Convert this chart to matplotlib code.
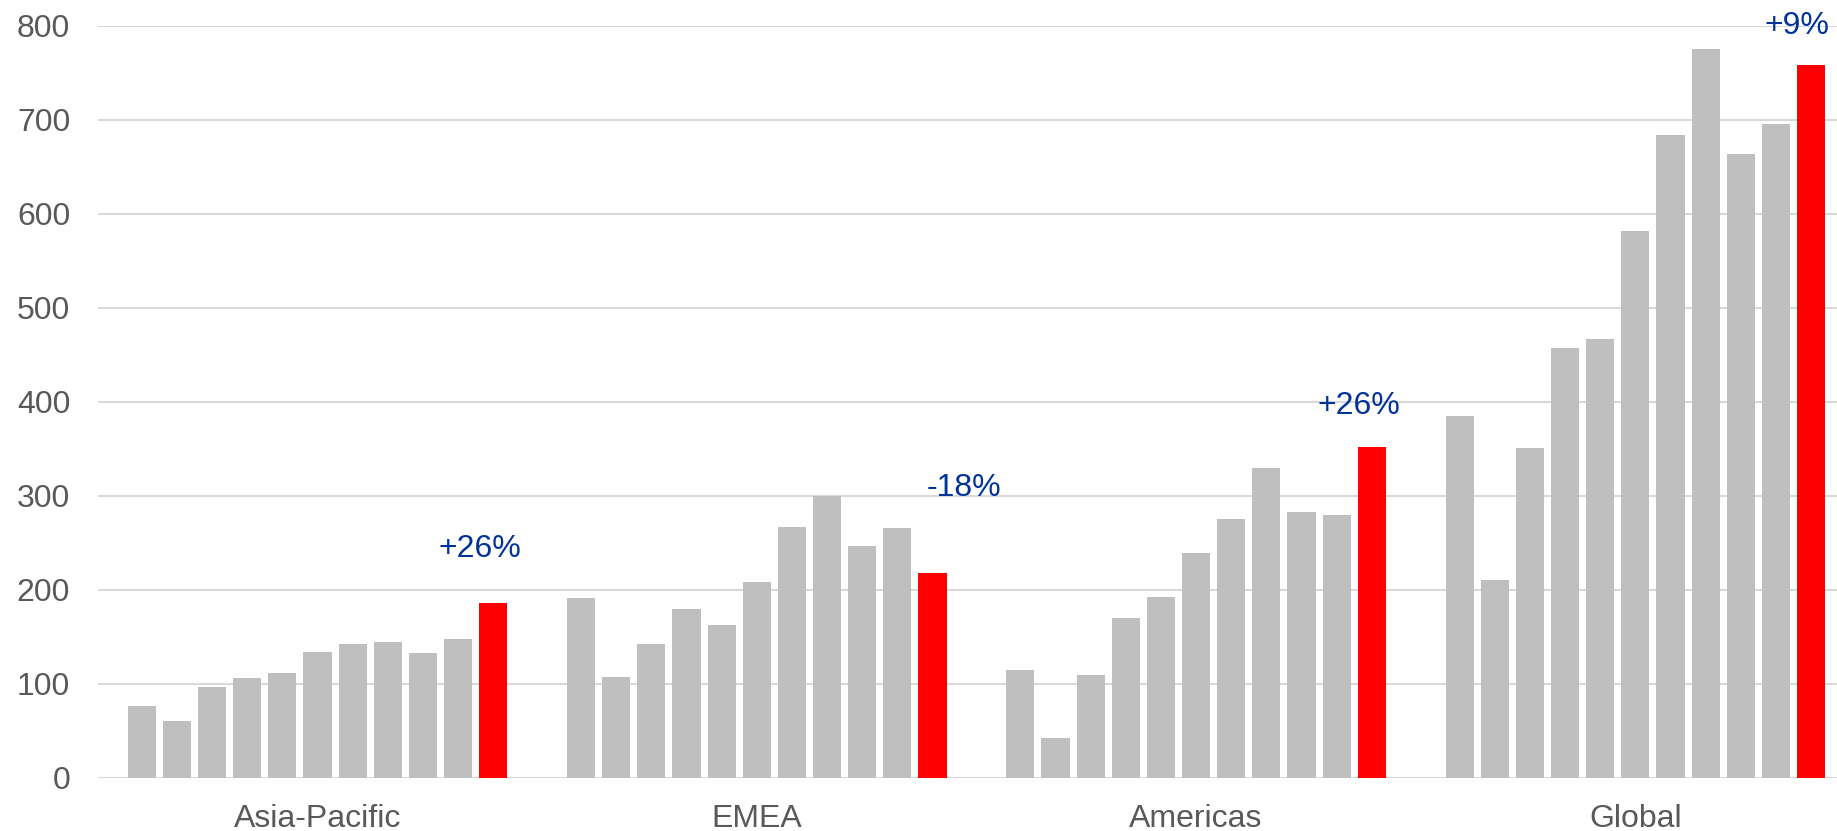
import numpy as np
import matplotlib
matplotlib.use("Agg")
import matplotlib.pyplot as plt

plt.rcParams['font.family'] = ['Liberation Sans', 'DejaVu Sans']

regions = ["Asia-Pacific", "EMEA", "Americas", "Global"]

asia_pacific = [77, 61, 97, 106, 112, 134, 143, 145, 133, 148, 186]
emea = [191, 107, 143, 180, 163, 208, 267, 300, 247, 266, 218]
americas = [115, 43, 110, 170, 192, 239, 275, 330, 283, 280, 352]
global_total = [385, 211, 351, 457, 467, 582, 684, 775, 664, 695, 758]

series = [asia_pacific, emea, americas, global_total]

# label placement relative to the last bar: (x shift in bar slots, y in data units)
label_pos = [(-0.37, 243), (0.9, 308), (-0.37, 396), (-0.4, 800)]

GREY = "#bfbfbf"
RED = "#ff0000"
BLUE = "#003399"
TEXT = "#595959"
GRID = "#d9d9d9"

group_step = 12.5
bar_width = 0.8

fig = plt.figure(figsize=(18.37, 8.31), dpi=100)
ax = fig.add_axes([0.0533, 0.0638, 0.9565, 0.9052])

centers = []
for g, vals in enumerate(series):
    x = g * group_step + np.arange(len(vals))
    colors = [GREY] * (len(vals) - 1) + [RED]
    ax.bar(x, vals, width=bar_width, color=colors, zorder=3)
    centers.append(x.mean())

    change = (vals[-1] / vals[-2] - 1) * 100
    dx, ly = label_pos[g]
    ax.text(x[-1] + dx, ly, "{:+.0f}%".format(change), color=BLUE,
            fontsize=23, ha='center', va='center', zorder=4)

ax.set_xlim(-1.25, len(series) * group_step - 1.25)
ax.set_ylim(0, 800)
ax.set_yticks(range(0, 801, 100))
ax.set_xticks(centers)
ax.set_xticklabels(regions)

ax.yaxis.grid(True, color=GRID, linewidth=1.5, zorder=0)
ax.set_axisbelow(True)
for s in ax.spines.values():
    s.set_visible(False)
ax.tick_params(axis='both', length=0, labelsize=23, colors=TEXT)
ax.tick_params(axis='y', pad=20)
ax.tick_params(axis='x', pad=19)

fig.savefig("out.png", dpi=100, facecolor='white')
